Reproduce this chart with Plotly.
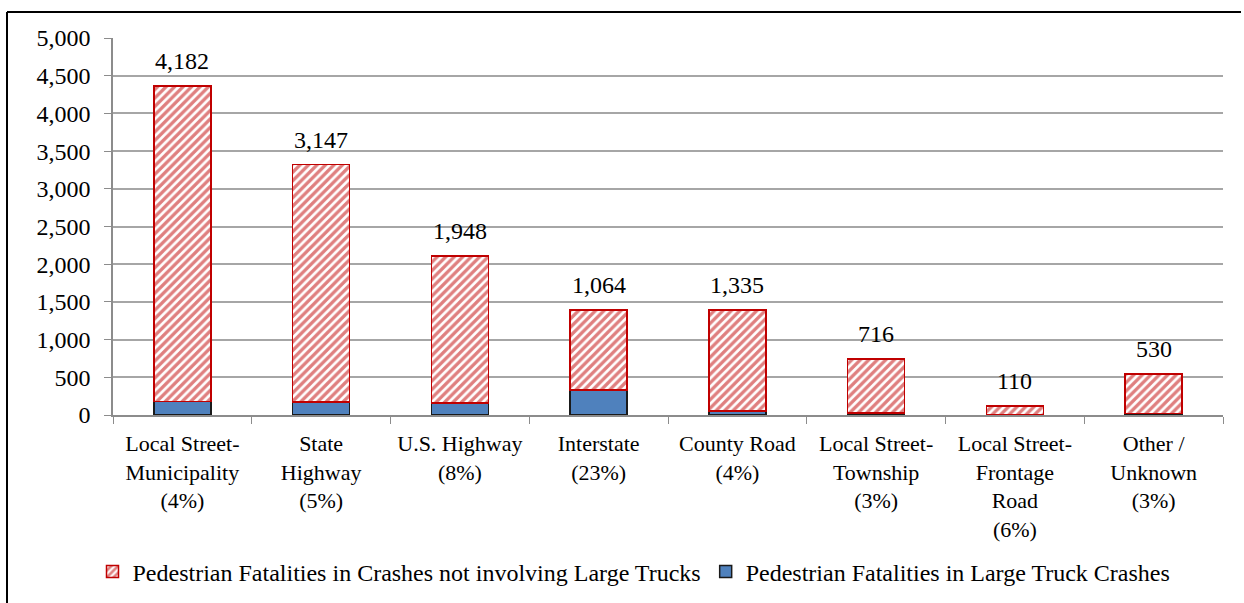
import plotly.graph_objects as go

categories = [
    "Local Street-<br>Municipality<br>(4%)",
    "State<br>Highway<br>(5%)",
    "U.S. Highway<br>(8%)",
    "Interstate<br>(23%)",
    "County Road<br>(4%)",
    "Local Street-<br>Township<br>(3%)",
    "Local Street-<br>Frontage<br>Road<br>(6%)",
    "Other /<br>Unknown<br>(3%)",
]
truck_crashes = [180, 175, 160, 330, 55, 25, 7, 17]
non_truck = [4182, 3147, 1948, 1064, 1335, 716, 110, 530]

FONT = "Liberation Serif"
W, H = 1244, 603
ML, MR, MT, MB = 113, 21, 38, 188
PW, PH = W - ML - MR, H - MT - MB


def px_x(x):
    return (x - ML) / PW


def px_y(y):
    return (H - MB - y) / PH


fig = go.Figure()

fig.add_trace(go.Bar(
    x=categories, y=truck_crashes,
    name="Pedestrian Fatalities in Large Truck Crashes",
    marker=dict(color="#4F81BD", line=dict(color="#1a1a1a", width=1.5)),
))
fig.add_trace(go.Bar(
    x=categories, y=non_truck,
    name="Pedestrian Fatalities in Crashes not involving Large Trucks",
    marker=dict(
        color="white",
        line=dict(color="#C00000", width=1.5),
        pattern=dict(shape="/", fgcolor="#C00000", bgcolor="white", size=6, solidity=0.55),
    ),
))

# value labels above each stack
for c, t, n in zip(categories, truck_crashes, non_truck):
    fig.add_annotation(
        x=c, y=t + n, text=f"{n:,}", showarrow=False,
        yanchor="bottom", yshift=10,
        font=dict(family=FONT, size=24, color="black"),
    )

# outer frame (left and top edges visible)
fig.add_shape(type="line", xref="paper", yref="paper",
              x0=px_x(7), x1=px_x(7), y0=px_y(12), y1=px_y(610),
              line=dict(color="black", width=2))
fig.add_shape(type="line", xref="paper", yref="paper",
              x0=px_x(7), x1=px_x(1241), y0=px_y(12), y1=px_y(12),
              line=dict(color="black", width=2))

fig.update_layout(
    width=W, height=H,
    barmode="stack", bargap=0.59,
    paper_bgcolor="white", plot_bgcolor="white",
    font=dict(family=FONT, size=22, color="black"),
    margin=dict(l=ML, r=MR, t=MT, b=MB, autoexpand=False),
    showlegend=True,
    legend=dict(
        orientation="h", traceorder="reversed",
        x=px_x(634), xanchor="center", y=px_y(572), yanchor="middle",
        font=dict(family=FONT, size=24), itemwidth=30,
        bgcolor="rgba(0,0,0,0)",
    ),
    xaxis=dict(
        showline=True, linecolor="#8C8C8C", linewidth=1.5,
        ticks="outside", tickson="boundaries", ticklen=7, tickcolor="#8C8C8C",
        showgrid=False, tickfont=dict(family=FONT, size=22),
        ticklabelstandoff=8,
    ),
    yaxis=dict(
        range=[0, 5000], dtick=500, tickformat=",",
        showline=True, linecolor="#8C8C8C", linewidth=1.5,
        ticks="outside", ticklen=7, tickcolor="#8C8C8C",
        gridcolor="#A6A6A6", gridwidth=1.5, zeroline=False,
        tickfont=dict(family=FONT, size=24),
        ticklabelstandoff=9,
    ),
)

fig.write_html("out.html", config={"displayModeBar": False},
               post_script="document.body.style.margin='0';")
